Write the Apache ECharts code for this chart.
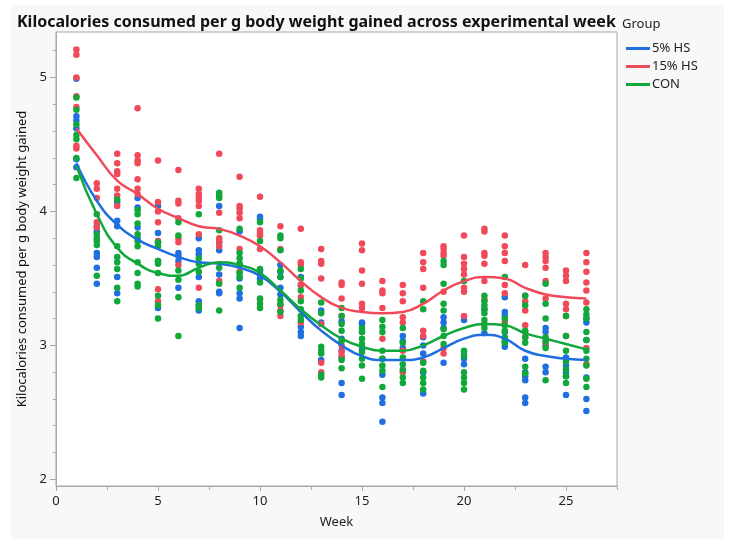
<!DOCTYPE html>
<html>
<head>
<meta charset="utf-8">
<script src="https://cdn.jsdelivr.net/npm/echarts@6/dist/echarts.min.js"></script>
<style>
  html, body { margin: 0; padding: 0; background: #fff; }
  #chart { width: 735px; height: 550px; }
</style>
</head>
<body>
<div id="chart"></div>
<script>
'use strict';

const weeks = [1, 2, 3, 4, 5, 6, 7, 8, 9, 10, 11, 12, 13, 14, 15, 16, 17, 18, 19, 20, 21, 22, 23, 24, 25, 26];
const groups = ['5% HS', '15% HS', 'CON'];
const colors = ['#1f6fe0', '#f04a5a', '#10a83a'];

// raw points, one list per week
const hs5Points = [
  [4.99, 4.71, 4.68, 4.62, 4.39, 4.33],
  [3.89, 3.85, 3.69, 3.66, 3.58, 3.46],
  [4.07, 3.93, 3.89, 3.51, 3.39],
  [4.10, 4.03, 3.88, 3.80],
  [4.04, 3.84, 3.77, 3.63, 3.28],
  [3.69, 3.67, 3.63, 3.43],
  [3.80, 3.71, 3.68, 3.51, 3.33, 3.26],
  [4.04, 3.77, 3.71, 3.53, 3.40, 3.39],
  [3.85, 3.61, 3.50, 3.39, 3.35, 3.13],
  [3.96, 3.94, 3.56, 3.53, 3.50],
  [3.60, 3.55, 3.51, 3.43, 3.38],
  [3.51, 3.45, 3.14, 3.10, 3.07],
  [3.26, 3.17, 2.89],
  [3.18, 3.05, 2.96, 2.91, 2.72, 2.63],
  [3.17, 3.16, 3.10, 2.97],
  [2.90, 2.78, 2.61, 2.57, 2.43],
  [3.07, 3.03, 2.98],
  [3.06, 3.00, 2.94, 2.80, 2.64],
  [3.21, 3.17, 3.13, 2.87],
  [3.19, 2.95, 2.90, 2.86],
  [3.27, 3.09],
  [3.36, 3.25, 3.22, 3.10, 3.03, 2.99],
  [2.90, 2.80, 2.77, 2.74, 2.61, 2.57],
  [3.13, 3.10, 3.00, 2.84, 2.80],
  [2.91, 2.85, 2.80, 2.77, 2.63],
  [3.20, 3.17, 3.04, 2.76, 2.60, 2.51]
];
const hs15Points = [
  [5.21, 5.17, 5.00, 4.86, 4.78, 4.49, 4.47],
  [4.21, 4.17, 4.10, 3.92, 3.88],
  [4.43, 4.36, 4.30, 4.28, 4.17, 4.12, 4.04],
  [4.77, 4.42, 4.38, 4.36, 4.24, 4.17, 4.13],
  [4.38, 4.07, 4.00, 3.92, 3.78, 3.42, 3.33],
  [4.31, 4.08, 4.06, 3.95, 3.80, 3.77, 3.60],
  [4.17, 4.13, 4.10, 4.08, 4.04, 3.83, 3.43, 3.30],
  [4.43, 3.99, 3.80, 3.78, 3.74, 3.48],
  [4.26, 4.04, 4.02, 3.99, 3.95, 3.72, 3.55],
  [4.11, 3.86, 3.84, 3.82, 3.72, 3.34],
  [3.89, 3.72, 3.30, 3.26, 3.22],
  [3.87, 3.62, 3.60, 3.45, 3.36, 3.17],
  [3.72, 3.63, 3.61, 3.50, 3.16, 2.87, 2.80],
  [3.47, 3.45, 3.35, 3.22, 3.00, 2.95, 2.92],
  [3.76, 3.71, 3.56, 3.46, 3.31, 3.28],
  [3.48, 3.41, 3.39, 3.28, 3.05],
  [3.45, 3.39, 3.33, 3.21, 3.17, 2.96, 2.80],
  [3.69, 3.62, 3.57, 3.43, 3.11, 3.07, 2.88],
  [3.74, 3.72, 3.69, 3.67, 3.40, 2.98, 2.94],
  [3.82, 3.66, 3.61, 3.57, 3.53, 3.43, 3.40, 3.22],
  [3.87, 3.85, 3.69, 3.67, 3.61, 3.48, 3.34],
  [3.82, 3.74, 3.69, 3.63, 3.45, 3.39, 3.17],
  [3.60, 3.37, 3.33, 3.26, 3.15, 3.10, 3.06],
  [3.69, 3.66, 3.63, 3.58, 3.48, 3.35, 3.02],
  [3.56, 3.52, 3.48, 3.31, 3.27, 3.22, 3.07],
  [3.69, 3.62, 3.55, 3.47, 3.41, 3.32, 2.98, 2.86]
];
const conPoints = [
  [4.85, 4.76, 4.65, 4.57, 4.54, 4.40, 4.25],
  [3.98, 3.83, 3.80, 3.78, 3.75, 3.52],
  [4.09, 3.74, 3.66, 3.62, 3.57, 3.43, 3.33],
  [4.01, 3.98, 3.91, 3.83, 3.78, 3.74, 3.62, 3.54, 3.46, 3.44],
  [3.77, 3.74, 3.63, 3.61, 3.54, 3.37, 3.30, 3.20],
  [3.92, 3.82, 3.56, 3.49, 3.36, 3.07],
  [3.98, 3.65, 3.61, 3.55, 3.30, 3.28],
  [4.14, 4.12, 4.10, 3.86, 3.58, 3.46, 3.26],
  [3.87, 3.69, 3.65, 3.61, 3.54, 3.51, 3.43],
  [3.92, 3.78, 3.57, 3.47, 3.35, 3.31, 3.28],
  [3.82, 3.80, 3.71, 3.56, 3.51, 3.34, 3.31, 3.25],
  [3.57, 3.50, 3.41, 3.33, 3.27, 3.22, 3.19],
  [3.32, 3.24, 2.99, 2.96, 2.94, 2.78, 2.76],
  [3.28, 3.22, 3.16, 3.11, 3.03, 2.89, 2.83],
  [3.13, 3.10, 3.05, 3.01, 2.95, 2.90, 2.85, 2.75],
  [3.19, 3.14, 3.10, 2.96, 2.90, 2.85, 2.81, 2.69],
  [3.13, 3.02, 2.91, 2.86, 2.82, 2.76, 2.72],
  [3.33, 3.27, 2.87, 2.81, 2.76, 2.72, 2.67],
  [3.63, 3.60, 3.46, 3.31, 3.26, 3.12, 3.07, 3.01],
  [3.48, 2.96, 2.92, 2.80, 2.76, 2.72, 2.67],
  [3.37, 3.33, 3.30, 3.27, 3.24, 3.19, 3.16, 3.13],
  [3.51, 3.20, 3.15, 3.11, 3.06, 3.02],
  [3.37, 3.30, 3.11, 3.06, 3.02, 2.84, 2.79],
  [3.46, 3.31, 3.20, 3.06, 3.03, 2.98, 2.74],
  [3.22, 3.07, 2.96, 2.88, 2.82, 2.77, 2.72],
  [3.27, 3.23, 3.20, 3.10, 3.04, 2.96, 2.90, 2.85, 2.75, 2.69]
];

// smoothed fit, one value per week
const hs5Fit = [4.36, 4.08, 3.90, 3.79, 3.72, 3.66, 3.62, 3.61, 3.58, 3.52, 3.40, 3.25, 3.11,
  3.00, 2.92, 2.89, 2.89, 2.91, 2.98, 3.05, 3.08, 3.05, 2.96, 2.92, 2.90, 2.89];
const hs15Fit = [4.62, 4.42, 4.23, 4.13, 4.02, 3.95, 3.89, 3.87, 3.82, 3.74, 3.62, 3.48, 3.36,
  3.28, 3.25, 3.24, 3.25, 3.31, 3.41, 3.48, 3.51, 3.50, 3.43, 3.38, 3.36, 3.35];
const conFit = [4.34, 3.98, 3.73, 3.61, 3.54, 3.52, 3.58, 3.62, 3.60, 3.54, 3.41, 3.27, 3.15,
  3.05, 2.99, 2.96, 2.96, 3.00, 3.07, 3.13, 3.16, 3.15, 3.09, 3.05, 3.01, 2.97];

const xLabelTicks = [0, 5, 10, 15, 20, 25];
const xMinorTicks = [2.5, 7.5, 12.5, 17.5, 22.5, 27.5];
const yLabelTicks = [2, 3, 4, 5];
const yMinorTicks = [2.2, 2.4, 2.6, 2.8, 3.2, 3.4, 3.6, 3.8, 4.2, 4.4, 4.6, 4.8, 5.2];

const toPairs = (perWeek) => {
  const out = [];
  perWeek.forEach((vals, i) => vals.forEach(v => out.push([weeks[i], v])));
  return out;
};

const pointSets = [hs5Points, hs15Points, conPoints];
const fitSets = [hs5Fit, hs15Fit, conFit];

const font = '"Noto Sans", "Open Sans", sans-serif';
const axisGrey = '#a8a8a8';

const series = [];
groups.forEach((g, i) => {
  series.push({
    name: g,
    type: 'scatter',
    symbolSize: 6.5,
    itemStyle: { color: colors[i], opacity: 1 },
    data: toPairs(pointSets[i]),
    z: 2
  });
});
groups.forEach((g, i) => {
  series.push({
    name: g,
    type: 'line',
    smooth: 0.5,
    symbol: 'none',
    lineStyle: { color: colors[i], width: 2.5 },
    itemStyle: { color: colors[i] },
    data: weeks.map((w, k) => [w, fitSets[i][k]]),
    z: 4
  });
});

const chart = echarts.init(document.getElementById('chart'));

const option = {
  animation: false,
  backgroundColor: '#ffffff',
  textStyle: { fontFamily: font },
  graphic: [{
    type: 'rect',
    shape: { x: 10, y: 5, width: 714, height: 534 },
    style: { fill: '#f8f8f8' },
    z: -10,
    silent: true
  }, {
    type: 'text',
    left: 622,
    top: 18,
    style: { text: 'Group', fontSize: 13, fontFamily: font, fill: '#222' }
  }],
  title: {
    text: 'Kilocalories consumed per g body weight gained across experimental week',
    left: 12,
    top: 9,
    textStyle: { fontSize: 16, fontWeight: 'bold', color: '#111', fontFamily: font }
  },
  legend: {
    orient: 'vertical',
    left: 621,
    top: 37,
    itemWidth: 24,
    itemHeight: 3,
    itemGap: 5,
    textStyle: { fontSize: 13, color: '#222', fontFamily: font, padding: [0, 0, 0, -3] },
    data: groups.map(g => ({ name: g, icon: 'rect' }))
  },
  grid: {
    left: 56,
    right: 118,
    top: 32,
    bottom: 64,
    show: true,
    backgroundColor: '#ffffff',
    borderColor: axisGrey,
    borderWidth: 1
  },
  xAxis: [{
    type: 'value',
    min: 0,
    max: 27.5,
    name: 'Week',
    nameLocation: 'middle',
    nameGap: 30,
    nameTextStyle: { fontSize: 13, color: '#222' },
    axisLine: { show: true, lineStyle: { color: axisGrey } },
    axisTick: { show: true, length: 5, customValues: xLabelTicks, lineStyle: { color: axisGrey } },
    axisLabel: { customValues: xLabelTicks, fontSize: 13, color: '#222', margin: 9 },
    splitLine: { show: false }
  }, {
    type: 'value',
    min: 0,
    max: 27.5,
    position: 'bottom',
    axisLine: { show: false },
    axisTick: { show: true, length: 4, customValues: xMinorTicks, lineStyle: { color: axisGrey } },
    axisLabel: { show: false },
    splitLine: { show: false }
  }],
  yAxis: [{
    type: 'value',
    min: 1.95,
    max: 5.34,
    name: 'Kilocalories consumed per g body weight gained',
    nameLocation: 'middle',
    nameGap: 27,
    nameTextStyle: { fontSize: 13, color: '#111' },
    axisLine: { show: true, lineStyle: { color: axisGrey } },
    axisTick: { show: true, length: 6, customValues: yLabelTicks, lineStyle: { color: axisGrey } },
    axisLabel: { customValues: yLabelTicks, fontSize: 13, color: '#222', margin: 9 },
    splitLine: { show: false }
  }, {
    type: 'value',
    min: 1.95,
    max: 5.34,
    position: 'left',
    axisLine: { show: false },
    axisTick: { show: true, length: 3, customValues: yMinorTicks, lineStyle: { color: axisGrey } },
    axisLabel: { show: false },
    splitLine: { show: false }
  }],
  series: series
};

chart.setOption(option);
</script>
</body>
</html>
